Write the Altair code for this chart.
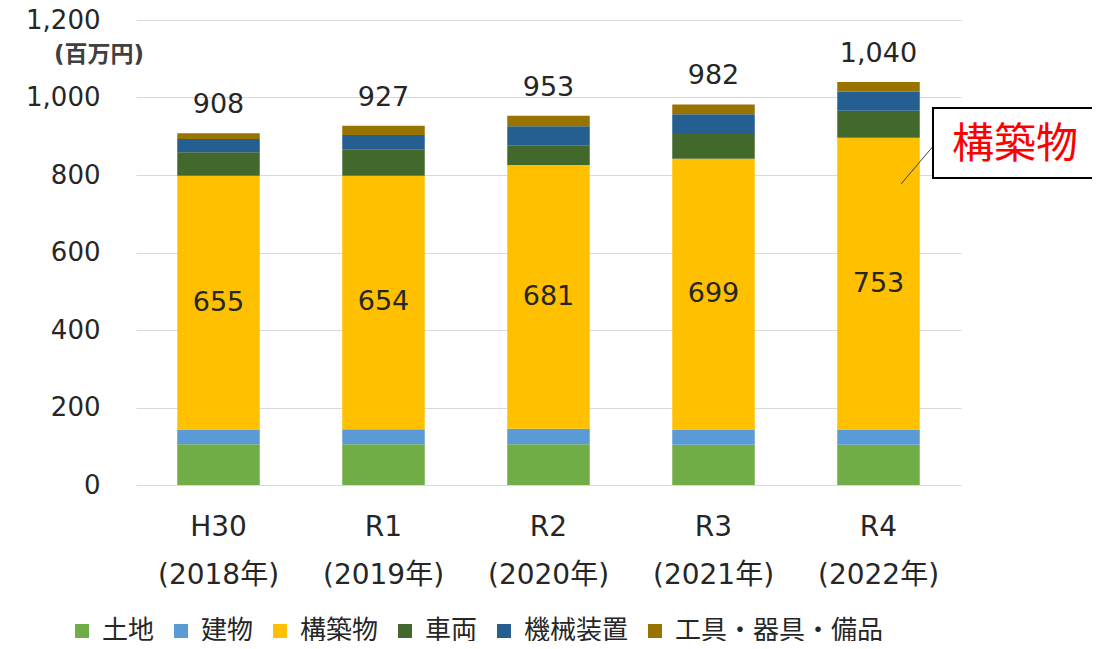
import altair as alt
import pandas as pd

years = ["H30|(2018年)", "R1|(2019年)", "R2|(2020年)", "R3|(2021年)", "R4|(2022年)"]
categories = ["土地", "建物", "構築物", "車両", "機械装置", "工具・器具・備品"]
colors = ["#70AD47", "#5B9BD5", "#FFC000", "#43682B", "#255E91", "#997300"]

land = [105, 105, 105, 104, 104]
building = [38, 39, 40, 39, 39]
structures = [655, 654, 681, 699, 753]
vehicles = [61, 67, 51, 64, 70]
machinery = [34, 38, 49, 51, 49]
tools = [15, 24, 27, 25, 25]
totals = [908, 927, 953, 982, 1040]

series = [land, building, structures, vehicles, machinery, tools]

rows = []
for ci, (cat, vals) in enumerate(zip(categories, series)):
    for y, v in zip(years, vals):
        rows.append({"year": y, "cat": cat, "idx": ci, "value": v})
df = pd.DataFrame(rows)

tot_df = pd.DataFrame({"year": years, "total": totals})
mid_df = pd.DataFrame({
    "year": years,
    "mid": [l + b + s / 2 for l, b, s in zip(land, building, structures)],
    "val": structures,
})

FONT = "DejaVu Sans, Noto Sans CJK JP"

x_enc = alt.X(
    "year:N", sort=years, title=None,
    scale=alt.Scale(paddingInner=0.5, paddingOuter=0.25),
    axis=alt.Axis(
        labelExpr="split(datum.label, '|')", labelAngle=0, labelFontSize=28,
        labelFont=FONT, labelColor="#262626", labelPadding=28, labelLineHeight=48,
        ticks=False, domain=False, grid=False,
    ),
)
y_scale = alt.Scale(domain=[0, 1200], nice=False)

bars = alt.Chart(df).mark_bar().encode(
    x=x_enc,
    y=alt.Y(
        "value:Q", stack="zero", scale=y_scale, title=None,
        axis=alt.Axis(
            values=[0, 200, 400, 600, 800, 1000, 1200], format=",d",
            labelFontSize=26, labelFont=FONT, labelColor="#262626",
            labelPadding=36, ticks=False, domain=False,
            gridColor="#D9D9D9", gridWidth=1,
        ),
    ),
    color=alt.Color(
        "cat:N", sort=categories,
        scale=alt.Scale(domain=categories, range=colors),
        legend=alt.Legend(
            title=None, orient="none", legendX=-67, legendY=598,
            direction="horizontal", symbolType="square", symbolSize=196,
            symbolStrokeWidth=0, labelFontSize=26, labelFont="Noto Sans CJK JP",
            labelColor="#262626", columnPadding=13, labelOffset=7, labelLimit=400,
        ),
    ),
    order=alt.Order("idx:Q", sort="ascending"),
)

tot_text = alt.Chart(tot_df).mark_text(
    baseline="alphabetic", dy=-20, fontSize=27, font=FONT, color="#262626"
).encode(
    x=alt.X("year:N", sort=years),
    y=alt.Y("total:Q", scale=y_scale),
    text=alt.Text("total:Q", format=","),
)

mid_text = alt.Chart(mid_df).mark_text(
    baseline="middle", fontSize=27, font=FONT, color="#262626"
).encode(
    x=alt.X("year:N", sort=years),
    y=alt.Y("mid:Q", scale=y_scale),
    text=alt.Text("val:Q"),
)

unit_df = pd.DataFrame({"t": ["(百万円)"]})
unit_text = alt.Chart(unit_df).mark_text(
    fontSize=23, fontWeight="bold", font=FONT, color="#404040", baseline="middle"
).encode(x=alt.value(-37), y=alt.value(35), text="t:N")

leader = alt.Chart(unit_df).mark_rule(color="#404040", strokeWidth=1).encode(
    x=alt.value(765), y=alt.value(164), x2=alt.value(799), y2=alt.value(124)
)

box = alt.Chart(unit_df).mark_rect(fill="white", stroke="black", strokeWidth=2).encode(
    x=alt.value(797), x2=alt.value(1000), y=alt.value(88), y2=alt.value(158)
)

ann_df = pd.DataFrame({"t": ["構築物"]})
ann_text = alt.Chart(ann_df).mark_text(
    fontSize=42, font="Noto Sans CJK JP", color="#FF0000", baseline="middle", align="left"
).encode(x=alt.value(816), y=alt.value(125), text="t:N")

chart = alt.layer(bars, tot_text, mid_text, unit_text, leader, box, ann_text).properties(
    width=825, height=465,
    autosize=alt.AutoSizeParams(type="none"),
    padding={"left": 128, "top": 12, "right": 131, "bottom": 156},
    background="white",
).configure_view(stroke=None)

chart.save("out.html", embed_options={"renderer": "svg", "actions": False})
